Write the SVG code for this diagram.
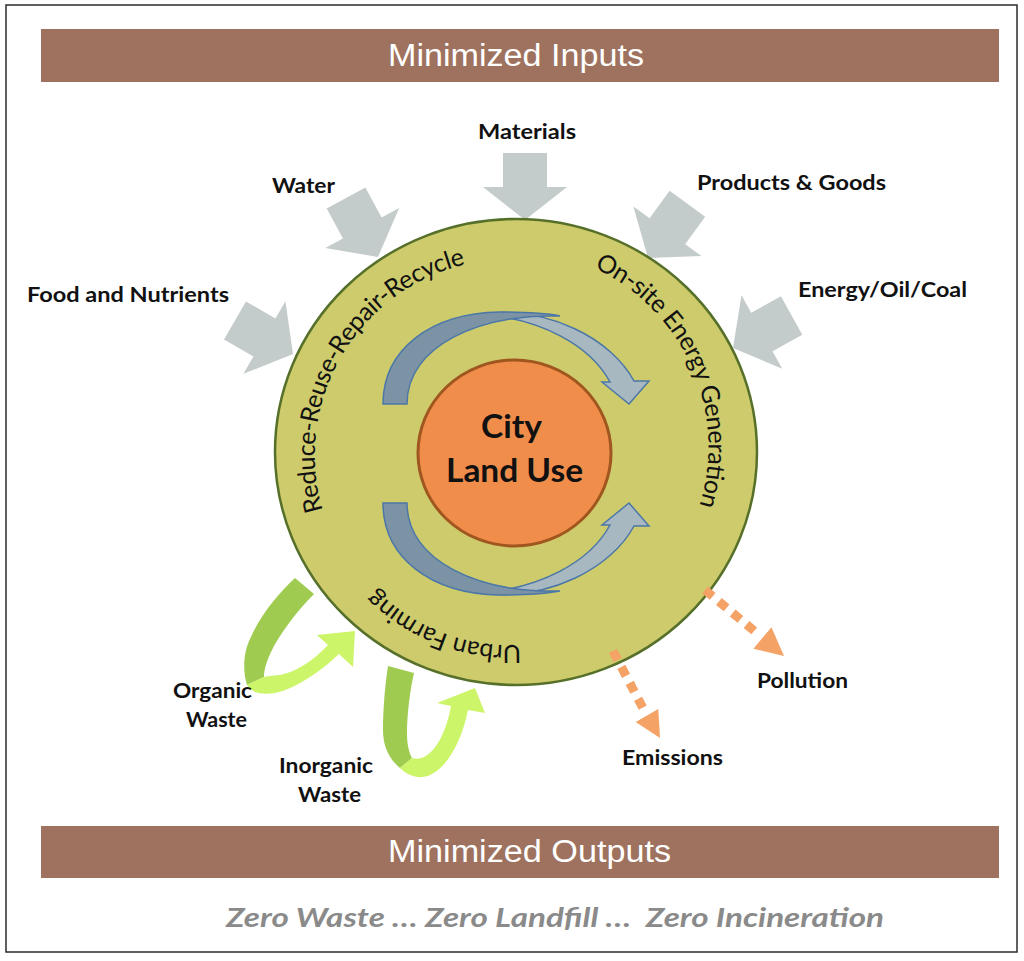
<svg xmlns="http://www.w3.org/2000/svg" width="1024" height="961" viewBox="0 0 1024 961">
<style>
.lbl{font-family:Lato,'Liberation Sans',sans-serif;font-weight:700;font-size:21px;fill:#111}
.ring{font-family:Lato,'Liberation Sans',sans-serif;font-size:25px;fill:#111}
.ban{font-family:'Liberation Sans',Arial,sans-serif;font-size:31px;fill:#fff}
.city{font-family:Lato,'Liberation Sans',sans-serif;font-weight:700;font-size:33px;fill:#111}
.zero{font-family:Lato,'Liberation Sans',sans-serif;font-weight:700;font-style:italic;font-size:27px;fill:#8a8a8a}
.inarrow{fill:#c4cccb}
.banner{fill:#9e725e}
.dash{fill:none;stroke:#f4a266;stroke-width:9;stroke-dasharray:10 8}
.dhead{fill:#f4a266}
.bdark{fill:#7c93a5;stroke:#4b77a8;stroke-width:1.5}
.blight{fill:#a8b8c1;stroke:#4b77a8;stroke-width:1.5}
.gdark{fill:#9fcc50}
.glight{fill:#cdf56a}
</style>
<defs>
<path id="inShape" d="M0,0 L-42,-33 L-22,-33 L-22,-67 L22,-67 L22,-33 L42,-33 Z"/>
<path id="pL" d="M322.8,510.4 A196,196 0 0 1 483.9,260.9"/>
<path id="pR" d="M594.1,267.9 A197,197 0 0 1 696.2,515"/>
<path id="pB" d="M520.9,644.7 A190,190 0 0 1 360.5,572.1"/>
<g id="blueArrow">
<path class="blight" d="M478,314 C550,305 612,340 634,381 L649,381 L629,404 L602,382 L610,382 C590,345 540,318 478,314 Z"/>
<path class="bdark" d="M383,404 C383,350 430,313 500,312 C530,312 550,314 560,316 C480,314 407,345 407,404 Z"/>
</g>
</defs>
<rect width="1024" height="961" fill="#fff"/>
<rect x="6" y="5" width="1011" height="947" fill="#fff" stroke="#2b2b2b" stroke-width="1.5"/>

<g id="banner-inputs">
<rect class="banner" x="41" y="29" width="958" height="53"/>
<text class="ban" x="388" y="66" textLength="256" lengthAdjust="spacingAndGlyphs">Minimized Inputs</text>
</g>

<g id="input-arrows">
<use href="#inShape" class="inarrow" transform="translate(525,220)"/>
<use href="#inShape" class="inarrow" transform="translate(378,257) rotate(-28.5)"/>
<use href="#inShape" class="inarrow" transform="translate(293,354) rotate(-60)"/>
<use href="#inShape" class="inarrow" transform="translate(648,258) rotate(36)"/>
<use href="#inShape" class="inarrow" transform="translate(733,348) rotate(61)"/>
</g>

<g id="input-labels">
<text class="lbl" x="478" y="139" textLength="98" lengthAdjust="spacingAndGlyphs">Materials</text>
<text class="lbl" x="272" y="193" textLength="63" lengthAdjust="spacingAndGlyphs">Water</text>
<text class="lbl" x="697" y="190" textLength="189" lengthAdjust="spacingAndGlyphs">Products &amp; Goods</text>
<text class="lbl" x="27" y="302" textLength="202" lengthAdjust="spacingAndGlyphs">Food and Nutrients</text>
<text class="lbl" x="798" y="297" textLength="169" lengthAdjust="spacingAndGlyphs">Energy/Oil/Coal</text>
</g>

<g id="ring">
<ellipse cx="516" cy="452" rx="241" ry="233" fill="#cdcb6b" stroke="#56702a" stroke-width="2.5"/>
<text class="ring"><textPath href="#pL" textLength="318">Reduce-Reuse-Repair-Recycle</textPath></text>
<text class="ring"><textPath href="#pR" textLength="284">On-site Energy Generation</textPath></text>
<text class="ring"><textPath href="#pB" textLength="160">Urban Farming</textPath></text>
</g>

<g id="cycle-arrows">
<use href="#blueArrow"/>
<use href="#blueArrow" transform="matrix(1,0,0,-1,0,907)"/>
</g>

<g id="city">
<ellipse cx="514.5" cy="453" rx="96.5" ry="93" fill="#f18d4a" stroke="#a0561f" stroke-width="3"/>
<text class="city" x="481" y="438" textLength="61" lengthAdjust="spacingAndGlyphs">City</text>
<text class="city" x="446" y="482" textLength="137" lengthAdjust="spacingAndGlyphs">Land Use</text>
</g>

<g id="connectors">
<g id="organic-arrow">
<path class="gdark" d="M295,578 L314,594 C296,612 279,635 271,652 C265,665 264,672 264,677 L247,685 C242,668 244,650 251,637 C261,614 279,593 295,578 Z"/>
<path class="glight" d="M247,685 C251,693 262,695 275,693 C295,689 320,672 339,654 L353,667 L355,631 L317,635 L328,645 C312,662 295,672 280,675 C272,676 267,676 264,677 Z"/>
</g>
<g id="inorganic-arrow">
<path class="gdark" d="M388,666 L414,673 C410,690 407,715 407,733 C407,745 409,752 412,758 L400,768 C388,758 383,745 383,730 C383,710 385,685 388,666 Z"/>
<path class="glight" d="M400,768 C408,776 418,779 428,776 C448,768 462,740 468,710 L485,713 L475,688 L437,703 L451,706 C447,728 438,750 424,757 C420,759 415,759 412,758 Z"/>
</g>
<g id="pollution-arrow">
<line class="dash" x1="705" y1="590" x2="758" y2="634"/>
<polygon class="dhead" points="784,656 753.4,648.8 771.4,627.2"/>
</g>
<g id="emissions-arrow">
<line class="dash" x1="613" y1="651" x2="645" y2="712"/>
<polygon class="dhead" points="660,738 635.7,722 658.3,709"/>
</g>
</g>

<g id="output-labels">
<text class="lbl" x="173" y="698" textLength="79" lengthAdjust="spacingAndGlyphs">Organic</text>
<text class="lbl" x="186" y="727" textLength="61" lengthAdjust="spacingAndGlyphs">Waste</text>
<text class="lbl" x="279" y="773" textLength="94" lengthAdjust="spacingAndGlyphs">Inorganic</text>
<text class="lbl" x="298" y="802" textLength="63" lengthAdjust="spacingAndGlyphs">Waste</text>
<text class="lbl" x="757" y="688" textLength="91" lengthAdjust="spacingAndGlyphs">Pollution</text>
<text class="lbl" x="622" y="765" textLength="101" lengthAdjust="spacingAndGlyphs">Emissions</text>
</g>

<g id="banner-outputs">
<rect class="banner" x="41" y="826" width="958" height="52"/>
<text class="ban" x="388" y="862" textLength="283" lengthAdjust="spacingAndGlyphs">Minimized Outputs</text>
</g>

<g id="tagline">
<text class="zero" x="226" y="927" textLength="658" lengthAdjust="spacingAndGlyphs" xml:space="preserve">Zero Waste … Zero Landfill …  Zero Incineration</text>
</g>
</svg>
